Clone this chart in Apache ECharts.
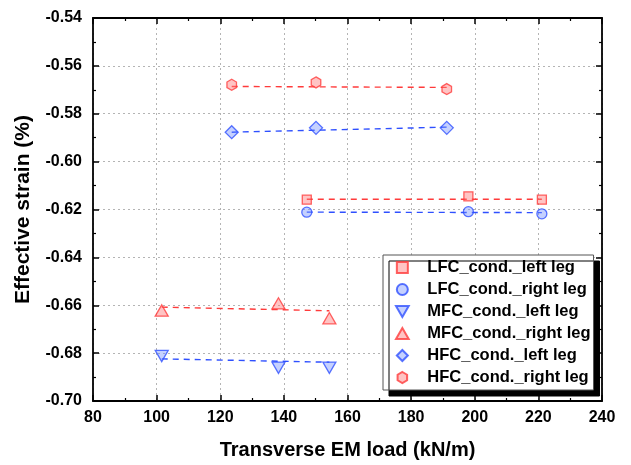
<!DOCTYPE html>
<html><head><meta charset="utf-8">
<script src="https://cdn.jsdelivr.net/npm/echarts@6/dist/echarts.min.js"></script>
<style>html,body{margin:0;padding:0;background:#fff}#c{width:631px;height:465px}</style>
</head><body><div id="c"></div>
<script>
// Data
const lfcX = [147.2, 198.0, 221.1];
const lfcLeftY = [-0.6159, -0.6145, -0.6159];
const lfcRightY = [-0.6211, -0.6209, -0.6218];
const mfcX = [101.6, 138.3, 154.3];
const mfcLeftY = [-0.6812, -0.6861, -0.6861];
const mfcRightY = [-0.6622, -0.6592, -0.6654];
const hfcX = [123.6, 150.1, 191.2];
const hfcLeftY = [-0.5877, -0.5859, -0.5859];
const hfcRightY = [-0.5679, -0.5669, -0.5697];
// Fit line end values
const lfcLeftFit = [-0.6157, -0.6157];
const lfcRightFit = [-0.6211, -0.6213];
const mfcLeftFit = [-0.6824, -0.6838];
const mfcRightFit = [-0.6608, -0.6623];
const hfcLeftFit = [-0.5877, -0.5856];
const hfcRightFit = [-0.5686, -0.5690];
const names = ['LFC_cond._left leg','LFC_cond._right leg','MFC_cond._left leg','MFC_cond._right leg','HFC_cond._left leg','HFC_cond._right leg'];

const RED = '#ff3b3b', REDF = 'rgba(255,120,120,0.55)';
const BLUE = '#2f50ff', BLUEF = 'rgba(110,140,255,0.5)';
const HEX = 'path://M0,-1 L0.866,-0.5 L0.866,0.5 L0,1 L-0.866,0.5 L-0.866,-0.5 Z';
const DOWN = 'path://M-1,-0.866 L1,-0.866 L0,0.866 Z';
const UP = 'path://M0,-0.866 L1,0.866 L-1,0.866 Z';
const RECT = 'path://M-1,-1 L1,-1 L1,1 L-1,1 Z';
const DIAM = 'path://M0,-1 L1,0 L0,1 L-1,0 Z';

function pts(xs, ys){ return xs.map((x,i)=>[x, ys[i]]); }
function ends(xs, f){ return [[xs[0], f[0]], [xs[xs.length-1], f[1]]]; }
function sc(name, xs, ys, sym, size, col, fill){
  return {name, type:'scatter', data:pts(xs,ys), symbol:sym, symbolSize:size, symbolKeepAspect:true, z:5,
    itemStyle:{color:fill, borderColor:col, borderWidth:1.3}};
}
function fit(xs, f, col){
  return {type:'line', data:ends(xs,f), symbol:'none', z:3, silent:true,
    lineStyle:{color:col, width:1.4, type:[6,5]}};
}
const axisCommon = {
  axisLine:{show:true, onZero:false, lineStyle:{color:'#000', width:1.8}},
  axisTick:{show:true, inside:true, length:6, lineStyle:{color:'#000', width:1.5}},
  minorTick:{show:true, splitNumber:2, length:3, lineStyle:{color:'#000', width:1.2}}
};
const chart = echarts.init(document.getElementById('c'));
chart.setOption({
  animation:false,
  backgroundColor:'#fff',
  grid:{left:93, right:29, top:18, bottom:63},
  legend:{
    orient:'vertical', left:383, top:255, data:names,
    itemWidth:34, itemHeight:11, itemGap:5, padding:[4,3,4,12],
    backgroundColor:'#fff', borderColor:'#555', borderWidth:1,
    shadowColor:'#000', shadowBlur:0, shadowOffsetX:6, shadowOffsetY:6,
    textStyle:{fontFamily:'Liberation Sans', fontWeight:'bold', fontSize:16.5, lineHeight:16, color:'#000', padding:[0,0,0,3]}
  },
  xAxis:[
    Object.assign({type:'value', min:80, max:240, interval:20, name:'Transverse EM load (kN/m)',
      nameLocation:'middle', nameGap:39,
      nameTextStyle:{fontFamily:'Liberation Sans', fontWeight:'bold', fontSize:20, color:'#000'},
      axisLabel:{fontFamily:'Liberation Sans', fontWeight:'bold', fontSize:16, color:'#000', margin:9},
      splitLine:{show:true, lineStyle:{color:'#b4b4b4', width:1, type:[2,3]}}}, axisCommon),
    Object.assign({type:'value', min:80, max:240, interval:20, position:'top',
      axisLabel:{show:false}, splitLine:{show:false}}, axisCommon)
  ],
  yAxis:[
    Object.assign({type:'value', min:-0.70, max:-0.54, interval:0.02, name:'Effective strain (%)',
      nameLocation:'middle', nameGap:59,
      nameTextStyle:{fontFamily:'Liberation Sans', fontWeight:'bold', fontSize:21, color:'#000'},
      axisLabel:{fontFamily:'Liberation Sans', fontWeight:'bold', fontSize:16, color:'#000', margin:11,
        formatter:v=>v.toFixed(2)},
      splitLine:{show:true, lineStyle:{color:'#b4b4b4', width:1, type:[2,3]}}}, axisCommon),
    Object.assign({type:'value', min:-0.70, max:-0.54, interval:0.02, position:'right',
      axisLabel:{show:false}, splitLine:{show:false}}, axisCommon)
  ],
  series:[
    fit(lfcX, lfcLeftFit, RED), fit(lfcX, lfcRightFit, BLUE),
    fit(mfcX, mfcLeftFit, BLUE), fit(mfcX, mfcRightFit, RED),
    fit(hfcX, hfcLeftFit, BLUE), fit(hfcX, hfcRightFit, RED),
    sc(names[0], lfcX, lfcLeftY, RECT, 9, RED, REDF),
    sc(names[1], lfcX, lfcRightY, 'circle', 10, BLUE, BLUEF),
    sc(names[2], mfcX, mfcLeftY, DOWN, 13, BLUE, BLUEF),
    sc(names[3], mfcX, mfcRightY, UP, 13, RED, REDF),
    sc(names[4], hfcX, hfcLeftY, DIAM, 13, BLUE, BLUEF),
    sc(names[5], hfcX, hfcRightY, HEX, 11, RED, REDF)
  ]
});
</script></body></html>
